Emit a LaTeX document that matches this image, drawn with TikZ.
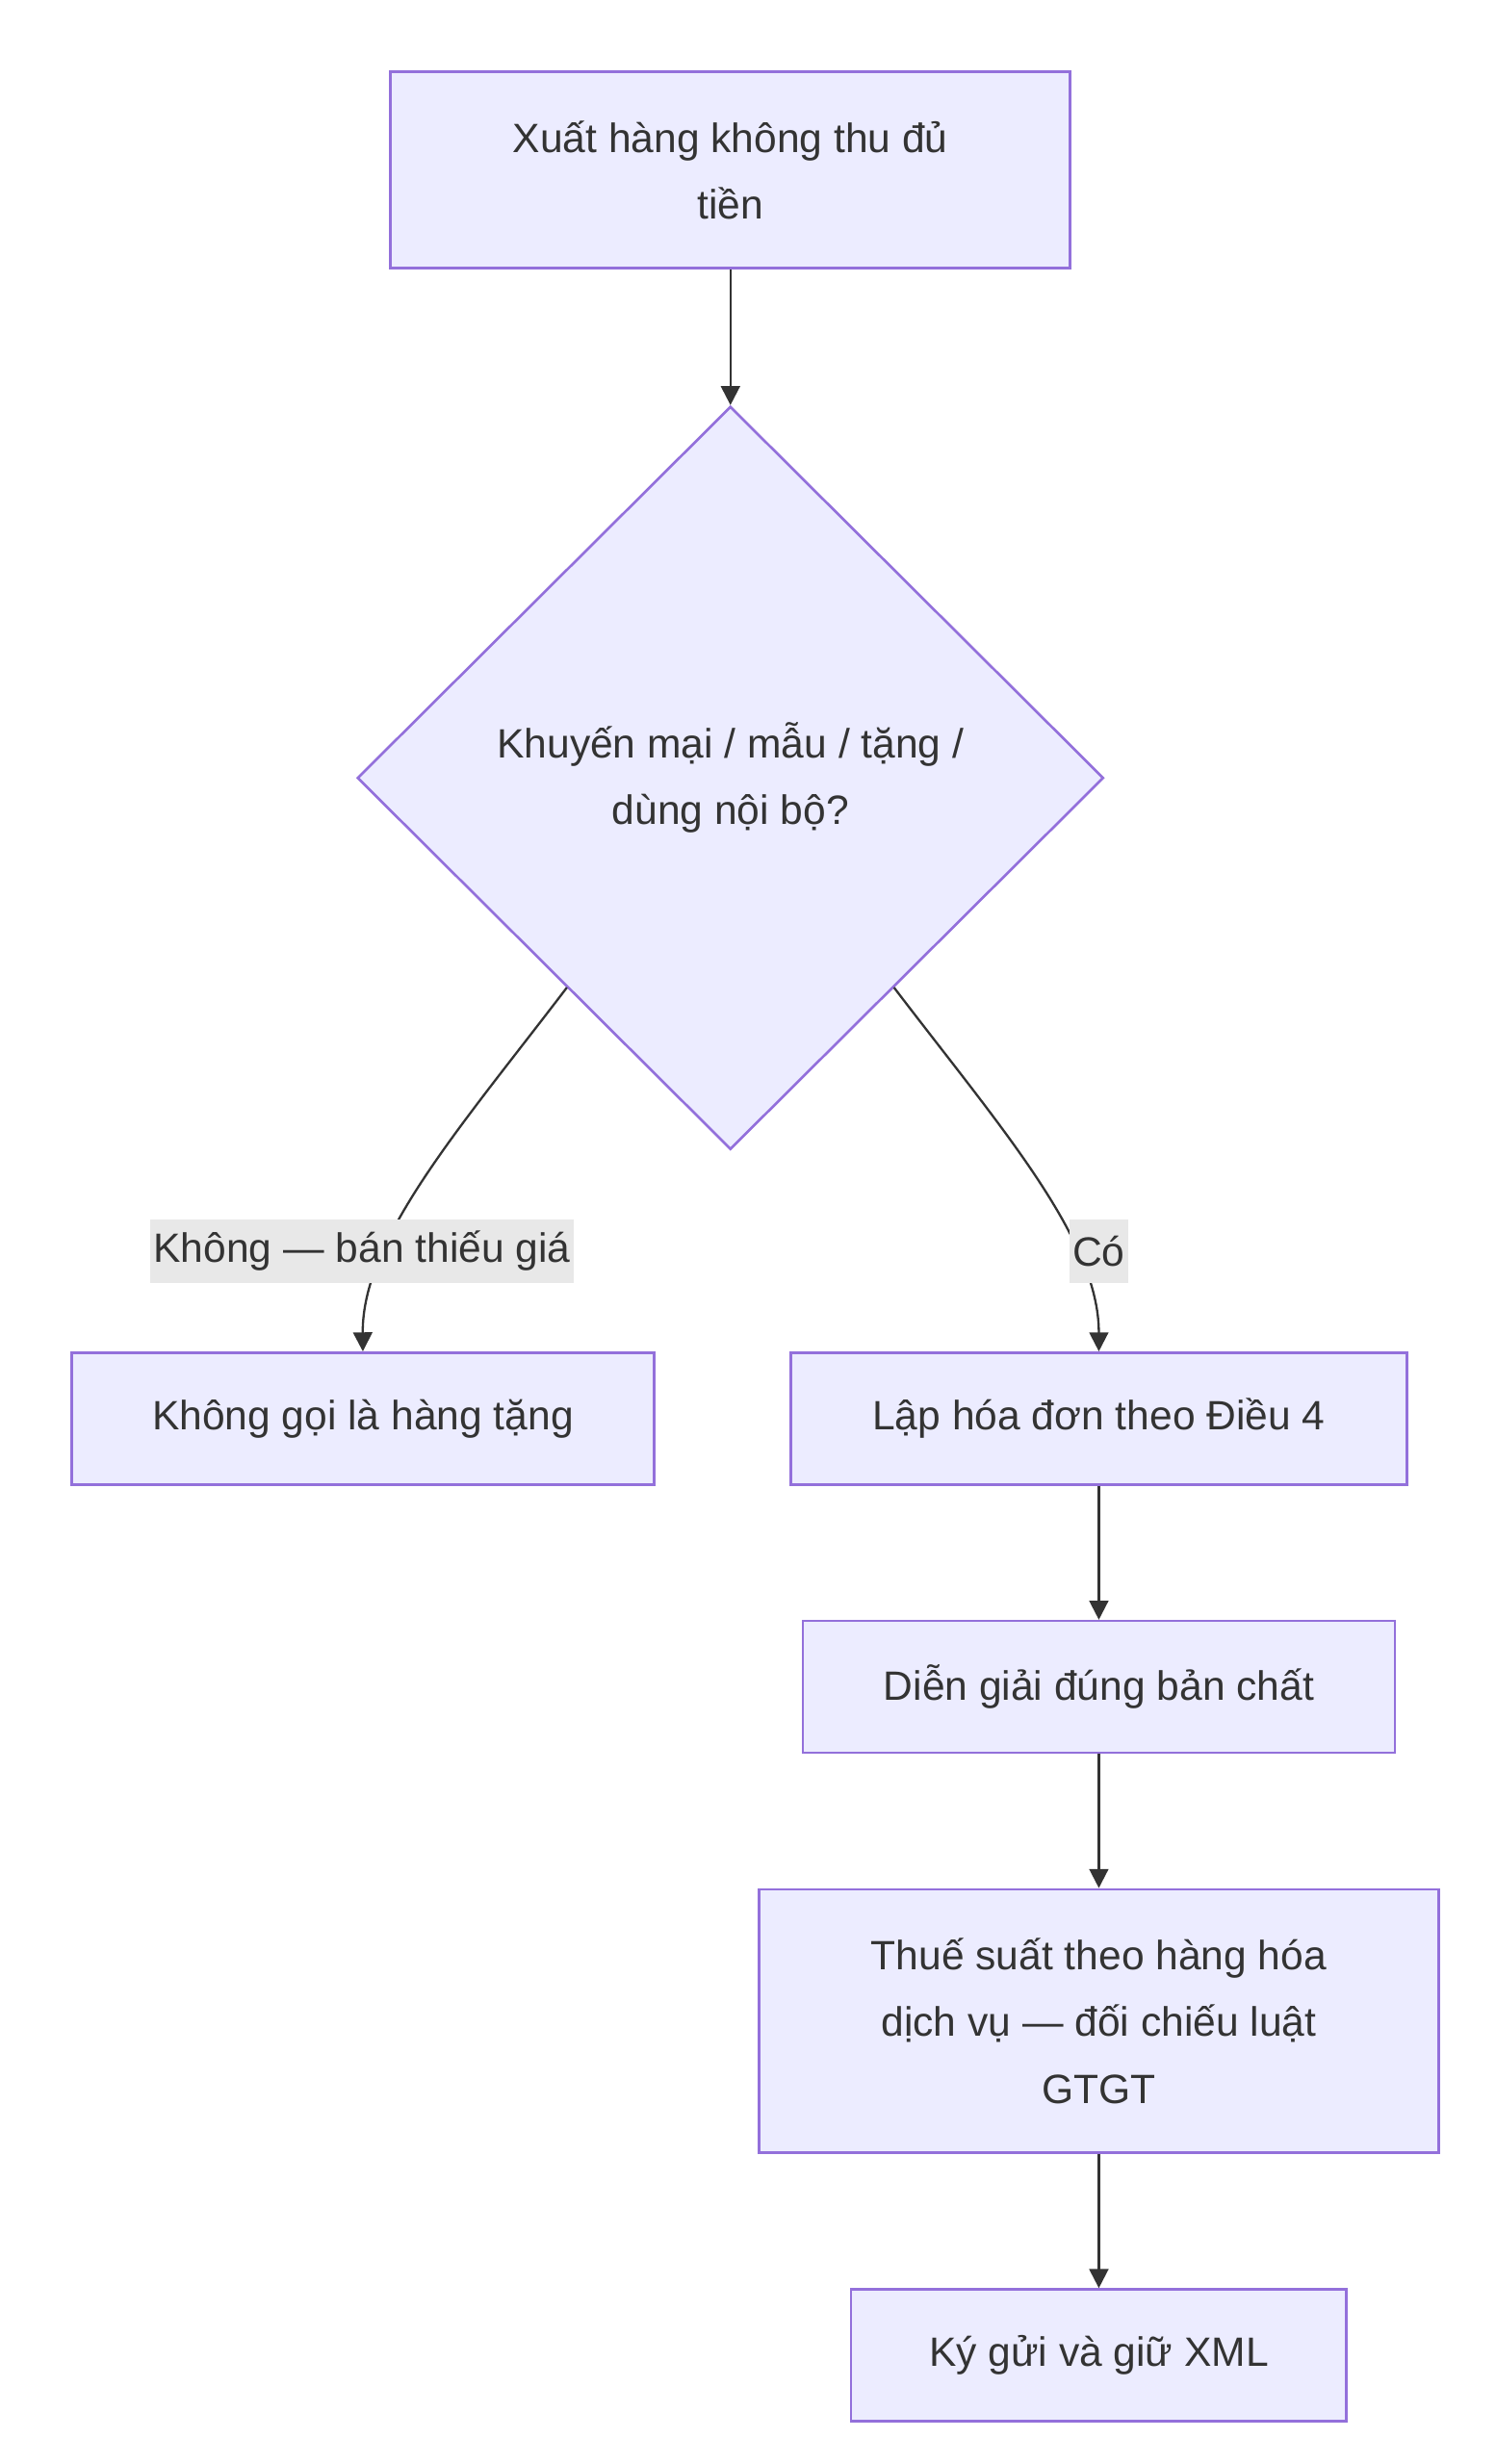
\documentclass[tikz,border=0pt]{standalone}
\usepackage{fontspec}
\setmainfont{Liberation Sans}
\usetikzlibrary{positioning}
\usetikzlibrary{shapes.geometric}
\usetikzlibrary{arrows.meta}
\definecolor{boxfill}{HTML}{ECECFF}
\definecolor{boxline}{HTML}{9370DB}
\definecolor{edge}{HTML}{333333}
\definecolor{lblbg}{HTML}{E8E8E8}
\begin{document}
\begin{tikzpicture}[x=0.5pt, y=-0.5pt,
    box/.style={rectangle, draw=boxline, fill=boxfill, line width=0.8pt, align=center, text=edge, inner sep=0pt, font=\fontsize{12.9}{21}\selectfont},
    dec/.style={diamond, draw=boxline, fill=boxfill, line width=0.8pt, align=center, text=edge, inner sep=0pt, minimum width=235pt, minimum height=234pt, font=\fontsize{12.9}{21}\selectfont},
    lbl/.style={fill=lblbg, text=edge, inner sep=1pt, minimum height=20pt, font=\fontsize{12.9}{21}\selectfont},
    arr/.style={-{Triangle[length=6pt, width=6pt]}, draw=edge, line width=0.7pt}]
    \useasboundingbox (0,0) rectangle (942,1552);
        \node[box, minimum width=214pt, minimum height=62pt] (xuat) at (460,107) {Xuất hàng không thu đủ\\tiền};
        \node[dec] (km) at (460,490) {Khuyến mại / mẫu / tặng /\\dùng nội bộ?};
        \node[box, minimum width=183.5pt, minimum height=41.5pt] (khong) at (228.5,893.5) {Không gọi là hàng tặng};
        \node[box, minimum width=194pt, minimum height=41.5pt] (lap) at (692,893.5) {Lập hóa đơn theo Điều 4};
        \node[box, minimum width=186.5pt, minimum height=41.5pt] (dien) at (692,1062.5) {Diễn giải đúng bản chất};
        \node[box, minimum width=214pt, minimum height=83pt] (thue) at (692,1273) {Thuế suất theo hàng hóa\\dịch vụ — đối chiếu luật\\GTGT};
        \node[box, minimum width=156pt, minimum height=41.5pt] (ky) at (692,1483.5) {Ký gửi và giữ XML};

        \coordinate (L1) at (357,622);
        \coordinate (R1) at (563,622);

        \draw[arr] (xuat) -- (km);
        \draw[arr] (L1) .. controls (290,710) and (228,780) .. (khong.north);
        \draw[arr] (R1) .. controls (630,710) and (692,780) .. (lap.north);
        \draw[arr] (lap) -- (dien);
        \draw[arr] (dien) -- (thue);
        \draw[arr] (thue) -- (ky);

        \node[lbl] (lkhong) at (228,788) {Không — bán thiếu giá};
        \node[lbl] (lco) at (692,788) {Có};
    \end{tikzpicture}
\end{document}
